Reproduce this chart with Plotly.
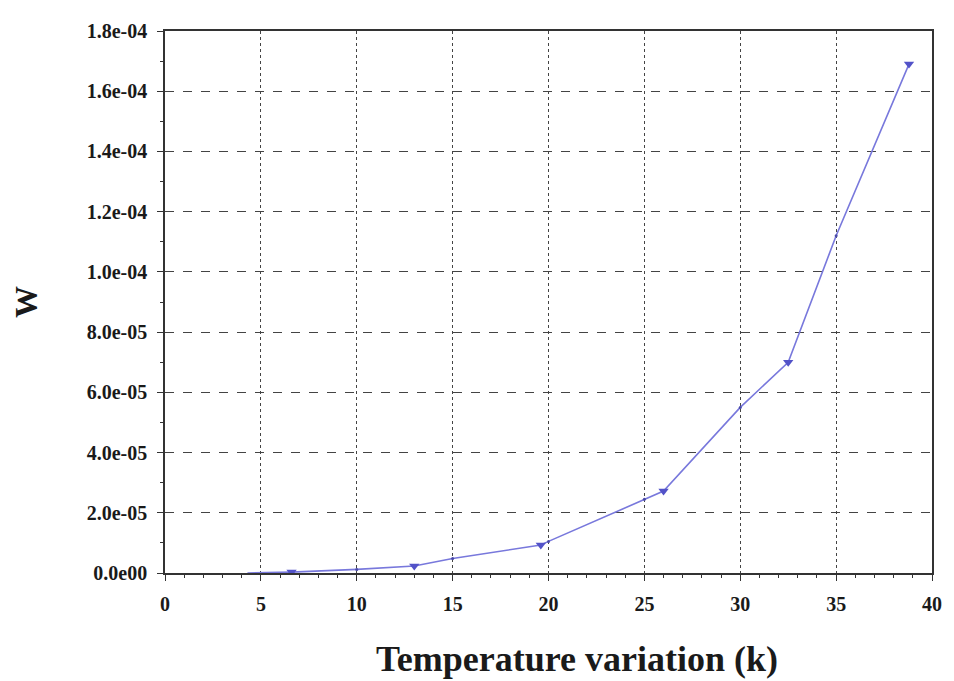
import plotly.graph_objects as go

# triangle-marked points
x_tri = [6.6, 13.0, 19.6, 26.0, 32.5, 38.8]
y_tri = [0.3e-6, 2.3e-6, 9.3e-6, 2.72e-5, 7.0e-5, 1.69e-4]

# intermediate points on the curve
x_pts = [4.3, 5.0, 10.0, 15.0, 20.0, 25.0, 30.0, 35.0]
y_pts = [0.0, 0.1e-6, 1.2e-6, 4.8e-6, 1.05e-5, 2.45e-5, 5.5e-5, 1.12e-4]

x_ticks = [0, 5, 10, 15, 20, 25, 30, 35, 40]
y_ticks = [0, 2e-5, 4e-5, 6e-5, 8e-5, 1e-4, 1.2e-4, 1.4e-4, 1.6e-4, 1.8e-4]
y_labels = ["0.0e00", "2.0e-05", "4.0e-05", "6.0e-05", "8.0e-05",
            "1.0e-04", "1.2e-04", "1.4e-04", "1.6e-04", "1.8e-04"]

pairs = sorted(zip(x_pts + x_tri, y_pts + y_tri))
x_all = [p[0] for p in pairs]
y_all = [p[1] for p in pairs]

line_col = "#7878dc"
font = "Liberation Serif"

fig = go.Figure()
fig.add_trace(go.Scatter(
    x=x_all, y=y_all, mode="lines",
    line=dict(color=line_col, width=1.6),
    showlegend=False, hoverinfo="skip"))
fig.add_trace(go.Scatter(
    x=x_pts[2:], y=y_pts[2:], mode="markers",
    marker=dict(symbol="circle", size=3, color="#4a4aa8"),
    showlegend=False))
fig.add_trace(go.Scatter(
    x=x_tri, y=y_tri, mode="markers",
    marker=dict(symbol="triangle-down", size=9, color="#5252c8"),
    showlegend=False))

axis_common = dict(
    showline=True, linecolor="#333333", linewidth=1.5, mirror=True,
    showgrid=True, gridcolor="#444444", gridwidth=1.4,
    ticks="outside", ticklen=6, tickcolor="#333333", zeroline=False,
    tickfont=dict(family=font, size=20, color="#1a1a1a"),
)

fig.update_xaxes(
    range=[0, 40], tickvals=x_ticks,
    ticktext=["<b>%d</b>" % v for v in x_ticks],
    griddash="dot", ticklabelstandoff=6,
    minor=dict(dtick=1, ticks="outside", ticklen=3, tickcolor="#333333"),
    **axis_common)
fig.update_yaxes(
    range=[0, 1.8e-4], tickvals=y_ticks,
    ticktext=["<b>%s</b>" % t for t in y_labels],
    griddash="dash", ticklabelstandoff=6,
    minor=dict(dtick=1e-5, ticks="outside", ticklen=3, tickcolor="#333333"),
    title=dict(text="<b>W</b>",
               font=dict(family=font, size=32, color="#1a1a1a"), standoff=42),
    **axis_common)

# x title sits a little right of the plot centre in the original
fig.add_annotation(
    text="<b>Temperature variation (k)</b>", xref="paper", yref="paper",
    x=0.537, y=-0.159, xanchor="center", yanchor="middle", showarrow=False,
    font=dict(family=font, size=36, color="#1a1a1a"))

fig.update_layout(
    width=946, height=673,
    margin=dict(l=157, r=16, t=18, b=108),
    paper_bgcolor="white", plot_bgcolor="white",
)

fig.write_html("out.html")
